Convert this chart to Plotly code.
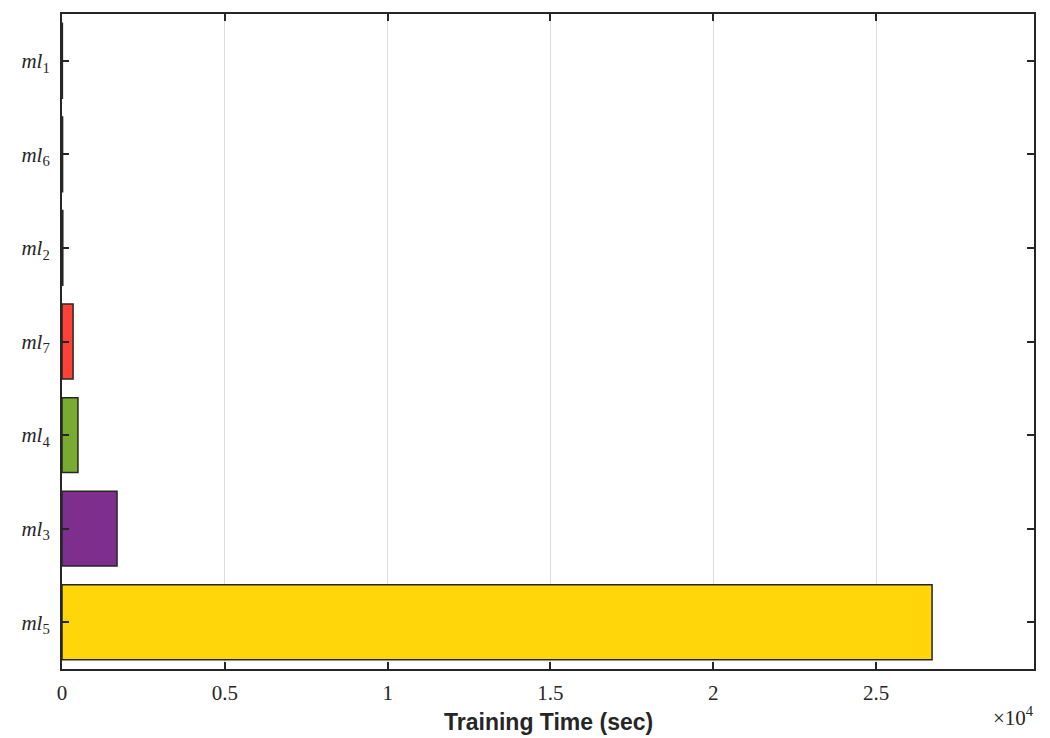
import plotly.graph_objects as go

# Training time per model, in seconds (plotted top to bottom)
models = ["ml1", "ml6", "ml2", "ml7", "ml4", "ml3", "ml5"]
train_time_sec = [12, 18, 25, 340, 490, 1690, 26720]
bar_colors = ["#0072BD", "#4DBEEE", "#D95319", "#FF4136", "#77AC30", "#7E2F8E", "#FFD60A"]

x_tick_vals = [0, 5000, 10000, 15000, 20000, 25000]
x_tick_text = ["0", "0.5", "1", "1.5", "2", "2.5"]
x_max = 29850

y_labels = [f"<i>ml</i><sub>{m[2:]}</sub>" for m in models]

fig = go.Figure(
    go.Bar(
        x=train_time_sec,
        y=models,
        orientation="h",
        marker=dict(color=bar_colors, line=dict(color="#262626", width=1.5)),
        width=0.8,
    )
)

serif = "Liberation Serif, DejaVu Serif, serif"

fig.update_layout(
    width=1050,
    height=738,
    margin=dict(l=62, r=16, t=12, b=69),
    paper_bgcolor="white",
    plot_bgcolor="white",
    showlegend=False,
    xaxis=dict(
        range=[0, x_max],
        tickvals=x_tick_vals,
        ticktext=x_tick_text,
        ticks="inside",
        ticklen=7,
        tickwidth=1.5,
        tickcolor="#262626",
        showline=True,
        linecolor="#262626",
        linewidth=2,
        mirror="ticks",
        showgrid=True,
        gridcolor="#dcdcdc",
        gridwidth=1.3,
        zeroline=False,
        tickfont=dict(family=serif, size=21, color="#262626"),
        ticklabelstandoff=4,
        fixedrange=True,
    ),
    yaxis=dict(
        categoryorder="array",
        categoryarray=models[::-1],
        range=[-0.5, 6.5],
        tickvals=models,
        ticktext=y_labels,
        ticks="inside",
        ticklen=7,
        tickwidth=1.5,
        tickcolor="#262626",
        showline=True,
        linecolor="#262626",
        linewidth=2,
        mirror="ticks",
        showgrid=False,
        zeroline=False,
        tickfont=dict(family=serif, size=21, color="#262626"),
        ticklabelstandoff=6,
    ),
    annotations=[
        dict(
            text="<b>Training Time (sec)</b>",
            xref="paper", yref="paper",
            x=0.5, y=0, yshift=-53,
            xanchor="center", yanchor="middle",
            showarrow=False,
            font=dict(family="Liberation Sans, Arial, sans-serif", size=23, color="#262626"),
        ),
        dict(
            text="×10<sup>4</sup>",
            xref="paper", yref="paper",
            x=1, y=0, yshift=-47, xshift=2,
            xanchor="right", yanchor="middle",
            showarrow=False,
            font=dict(family=serif, size=21, color="#262626"),
        ),
    ],
)

fig.write_html("out.html")
